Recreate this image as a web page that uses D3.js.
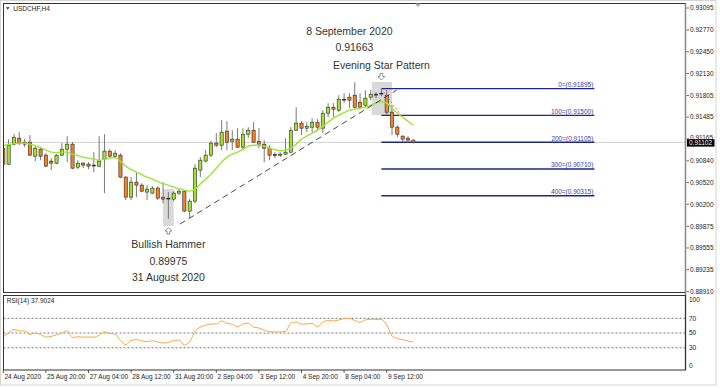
<!DOCTYPE html>
<html lang="en">
<head>
<meta charset="UTF-8">
<title>USDCHF,H4</title>
<style>
  * { margin: 0; padding: 0; }
  body { background: #fff; width: 720px; height: 388px; overflow: hidden; }
  svg { display: block; font-family: "Liberation Sans", Arial, sans-serif; }
  .axis-label { font-size: 6.5px; fill: #222; }
  .note { font-size: 10.5px; fill: #333; text-anchor: middle; }
  .fib-label { font-size: 6.5px; fill: #3d3da8; text-anchor: end; }
</style>
</head>
<body>
<svg id="chart" width="720" height="388"></svg>
<script src="https://d3js.org/d3.v7.min.js"></script>
<script>
// USDCHF H4 bars, 24 Aug 2020 12:00 -> 10 Sep 2020 08:00
const open = [0.91017,0.90781,0.91076,0.91165,0.91076,0.91106,0.90899,0.91002,0.90914,0.90826,
  0.90796,0.90914,0.91002,0.91076,0.90737,0.90796,0.90781,0.90767,0.90752,0.90855,
  0.90973,0.90899,0.90914,0.90590,0.90295,0.90516,0.90472,0.90369,0.90354,0.90428,
  0.90295,0.90266,0.90266,0.90354,0.90383,0.90089,0.90236,0.90693,0.90826,0.90914,
  0.91091,0.91061,0.91268,0.91120,0.91150,0.91032,0.91223,0.91282,0.91120,0.91076,
  0.91017,0.90922,0.90914,0.90929,0.90958,0.91282,0.91386,0.91312,0.91327,0.91400,
  0.91312,0.91533,0.91621,0.91577,0.91739,0.91769,0.91798,0.91695,0.91651,0.91769,
  0.91813,0.91820,0.91798,0.91548,0.91327,0.91194,0.91165,0.91135];
const high = [0.91047,0.91150,0.91223,0.91253,0.91150,0.91209,0.91047,0.91032,0.90943,0.90870,
  0.90929,0.91091,0.91194,0.91106,0.90840,0.90811,0.90811,0.90958,0.91194,0.91223,
  0.91002,0.90988,0.90943,0.90605,0.90590,0.90663,0.90501,0.90472,0.90457,0.90457,
  0.90516,0.90369,0.90383,0.90413,0.90398,0.90266,0.90781,0.90885,0.90988,0.91120,
  0.91238,0.91430,0.91415,0.91282,0.91312,0.91312,0.91327,0.91400,0.91312,0.91135,
  0.91061,0.90958,0.90958,0.91165,0.91327,0.91621,0.91415,0.91400,0.91459,0.91445,
  0.91577,0.91680,0.91680,0.91798,0.91828,0.91828,0.91990,0.91828,0.91872,0.91872,
  0.91842,0.91895,0.91872,0.91651,0.91356,0.91209,0.91194,0.91150];
const low = [0.90737,0.90767,0.91061,0.91061,0.91032,0.90899,0.90826,0.90840,0.90737,0.90693,
  0.90781,0.90899,0.90811,0.90708,0.90708,0.90722,0.90708,0.90663,0.90737,0.90354,
  0.90870,0.90870,0.90575,0.90251,0.90251,0.90295,0.90369,0.90251,0.90339,0.90251,
  0.90207,0.89975,0.90236,0.90325,0.90074,0.89986,0.90207,0.90590,0.90811,0.90885,
  0.91032,0.90988,0.90988,0.90988,0.91017,0.90988,0.91165,0.91091,0.91017,0.90811,
  0.90840,0.90870,0.90885,0.90914,0.90943,0.91268,0.91209,0.91253,0.91253,0.91268,
  0.91238,0.91474,0.91474,0.91548,0.91680,0.91607,0.91607,0.91607,0.91621,0.91725,
  0.91754,0.91783,0.91503,0.91209,0.91179,0.91106,0.91120,0.91084];
const close = [0.90781,0.91061,0.91179,0.91091,0.91106,0.90914,0.91017,0.90899,0.90752,0.90796,
  0.90914,0.91002,0.91076,0.90722,0.90796,0.90767,0.90752,0.90759,0.90826,0.90973,
  0.90899,0.90943,0.90590,0.90295,0.90516,0.90472,0.90383,0.90413,0.90428,0.90280,
  0.90266,0.90280,0.90354,0.90383,0.90089,0.90236,0.90722,0.90840,0.90914,0.91091,
  0.91061,0.91253,0.91106,0.91150,0.91032,0.91223,0.91282,0.91106,0.91076,0.91017,
  0.90914,0.90914,0.90929,0.90958,0.91282,0.91386,0.91312,0.91341,0.91400,0.91327,
  0.91533,0.91621,0.91592,0.91739,0.91732,0.91725,0.91621,0.91621,0.91754,0.91813,
  0.91806,0.91828,0.91548,0.91327,0.91223,0.91150,0.91135,0.91102];
// moving average as drawn on the chart
const maValues = [0.91061,0.91069,0.91084,0.91091,0.91091,0.91076,0.91054,0.91025,0.90988,0.90958,
  0.90951,0.90958,0.90958,0.90929,0.90907,0.90885,0.90870,0.90855,0.90840,0.90855,
  0.90870,0.90877,0.90826,0.90752,0.90700,0.90663,0.90627,0.90590,0.90560,0.90524,
  0.90494,0.90472,0.90442,0.90420,0.90398,0.90383,0.90413,0.90487,0.90560,0.90634,
  0.90722,0.90811,0.90885,0.90929,0.90958,0.91002,0.91047,0.91061,0.91061,0.91047,
  0.91017,0.90995,0.90980,0.90988,0.91017,0.91076,0.91150,0.91194,0.91238,0.91282,
  0.91341,0.91400,0.91459,0.91503,0.91540,0.91577,0.91592,0.91607,0.91621,0.91651,
  0.91680,0.91702,0.91680,0.91607,0.91533,0.91474,0.91415,0.91356];
const rsiValues = [45,50,55,53,53,48,50,48,44.5,45.5,
  47.5,50,53,44,45,44.5,44.5,44.5,47,51.5,
  49.6,48.5,40,34,40,41,39.5,38.2,39.5,37.8,
  36.5,37,40,40.5,34,38.2,52,58,60.5,62.3,
  62.3,66.4,63.3,62,58.5,62.3,63.3,58,57,54,
  51.8,51.5,51.5,52,63.5,65,62,62.5,63,58.5,
  65,67,66.5,67.8,69.5,70,67,64.6,67.8,68.7,
  68.7,68.5,61,46,42.5,41,39,37.9024];

const priceTicks = [0.93095,0.92770,0.92450,0.92130,0.91805,0.91485,0.91165,0.90840,0.90520,0.90200,0.89875,0.89555,0.89235,0.88910];
const timeTickBars = [0,8,16,24,32,40,48,56,64,72];
const timeTickLabels = ['24 Aug 2020','25 Aug 20:00','27 Aug 04:00','28 Aug 12:00','31 Aug 20:00','2 Sep 04:00','3 Sep 12:00','4 Sep 20:00','8 Sep 04:00','9 Sep 12:00'];
const rsiTicks = [100,70,50,30,0];
const rsiLevels = [70,50,30];
const fibLevels = [0,100,200,300,400];
const fibPrices = [0.91895,0.91500,0.91105,0.90710,0.90315];
const lastPrice = 0.91102;

const svg = d3.select('#chart');
const L = 3.5, R = 685.5, T = 3.5, B = 292.5, RT = 295.5, RB = 370;
const GREEN = '#a2e22c', ORANGE = '#ef8429';

const x = d3.scaleLinear().domain([0, 72]).range([3.3, 386.7]);
const y = d3.scaleLinear().domain([0.88910, 0.93095]).range([291, 7.3]);
const yr = d3.scaleLinear().domain([0, 100]).range([369.8, 296.3]);

const defs = svg.append('defs');
defs.append('clipPath').attr('id', 'clip-main').append('rect')
  .attr('x', L).attr('y', T).attr('width', R - L).attr('height', B - T);
defs.append('clipPath').attr('id', 'clip-rsi').append('rect')
  .attr('x', L).attr('y', RT).attr('width', R - L).attr('height', RB - RT);

// outer window border
svg.append('rect').attr('x', 0.5).attr('y', 0.5).attr('width', 715.5).attr('height', 384.5)
  .attr('fill', 'none').attr('stroke', '#d4d4d4');

const main = svg.append('g').attr('clip-path', 'url(#clip-main)');

// highlight boxes
const boxes = [
  { b0: 30, b1: 32, hi: 0.90415, lo: 0.89869 },
  { b0: 69.2, b1: 73, hi: 0.91993, lo: 0.91506 }
];
main.append('g').selectAll('rect').data(boxes).join('rect')
  .attr('x', d => x(d.b0)).attr('width', d => x(d.b1) - x(d.b0))
  .attr('y', d => y(d.hi)).attr('height', d => y(d.lo) - y(d.hi))
  .attr('fill', '#d9d9d9');

// current price line
main.append('line').attr('x1', L).attr('x2', R).attr('y1', y(lastPrice)).attr('y2', y(lastPrice))
  .attr('stroke', '#cfcfcf');

// fibo expansion lines
const fibStart = 71, fibEnd = 111;
main.append('g').selectAll('line').data(fibPrices).join('line')
  .attr('x1', x(fibStart)).attr('x2', x(fibEnd))
  .attr('y1', d => y(d)).attr('y2', d => y(d))
  .attr('stroke', '#1f268c').attr('stroke-width', 1.4);
main.append('g').selectAll('text').data(fibPrices).join('text')
  .attr('class', 'fib-label')
  .attr('x', x(fibEnd) - 1).attr('y', d => y(d) - 1.5)
  .text((d, i) => fibLevels[i] + '=(' + d.toFixed(5) + ')');

// candles
const bars = open.map((o, i) => ({ i, o, h: high[i], l: low[i], c: close[i] }));
const candle = main.append('g').selectAll('g').data(bars).join('g');
candle.append('line')
  .attr('x1', d => x(d.i)).attr('x2', d => x(d.i))
  .attr('y1', d => y(d.h)).attr('y2', d => y(d.l))
  .attr('stroke', '#6a6a6a').attr('stroke-width', 0.9);
candle.append('rect')
  .attr('x', d => x(d.i) - 1.6).attr('width', 3.2)
  .attr('y', d => y(Math.max(d.o, d.c)))
  .attr('height', d => Math.max(0.9, Math.abs(y(d.o) - y(d.c))))
  .attr('fill', d => Math.abs(y(d.o) - y(d.c)) < 1 ? '#222' : d.c > d.o ? GREEN : ORANGE)
  .attr('stroke', '#2a2a2a').attr('stroke-width', 0.6);

// moving average
main.append('path').datum(maValues)
  .attr('fill', 'none').attr('stroke', '#9be62e').attr('stroke-width', 1.4)
  .attr('d', d3.line().x((d, i) => x(i)).y(d => y(d)).curve(d3.curveMonotoneX));

// trend line
const trend = [[33.2, 0.89898], [73.9, 0.91875]];
main.append('line')
  .attr('x1', x(trend[0][0])).attr('y1', y(trend[0][1]))
  .attr('x2', x(trend[1][0])).attr('y2', y(trend[1][1]))
  .attr('stroke', '#333').attr('stroke-width', 0.9).attr('stroke-dasharray', '6,4');

// fibo base line
const fibBase = [[71, 0.91895], [74.7, 0.91500]];
main.append('line')
  .attr('x1', x(fibBase[0][0])).attr('y1', y(fibBase[0][1]))
  .attr('x2', x(fibBase[1][0])).attr('y2', y(fibBase[1][1]))
  .attr('stroke', '#ff5a5a').attr('stroke-width', 0.9).attr('stroke-dasharray', '2,2');

// annotations
function arrow(cx, top, up) {
  const p = up
    ? [[0,0],[3.5,3.5],[1.4,3.5],[1.4,6.5],[-1.4,6.5],[-1.4,3.5],[-3.5,3.5]]
    : [[0,6.5],[3.5,3],[1.4,3],[1.4,0],[-1.4,0],[-1.4,3],[-3.5,3]];
  svg.append('path')
    .attr('d', 'M' + p.map(q => (cx + q[0]) + ',' + (top + q[1])).join('L') + 'Z')
    .attr('fill', '#fff').attr('stroke', '#777').attr('stroke-width', 0.8);
}
const hx = x(31), hb = y(boxes[0].lo);
arrow(hx, hb + 1.5, true);
svg.append('text').attr('class', 'note').attr('x', hx).attr('y', hb + 22).text('Bullish Hammer');
svg.append('text').attr('class', 'note').attr('x', hx).attr('y', hb + 39.5).text('0.89975');
svg.append('text').attr('class', 'note').attr('x', hx).attr('y', hb + 55).text('31 August 2020');

const ex = x(71), et = y(boxes[1].hi);
arrow(ex, et - 8.5, false);
svg.append('text').attr('class', 'note').attr('x', ex).attr('y', et - 13).text('Evening Star Pattern');
svg.append('text').attr('class', 'note').attr('x', ex - 27).attr('y', et - 31).text('0.91663');
svg.append('text').attr('class', 'note').attr('x', ex - 32).attr('y', et - 47.5).text('8 September 2020');

// main frame
svg.append('rect').attr('x', L).attr('y', T).attr('width', R - L).attr('height', B - T)
  .attr('fill', 'none').attr('stroke', '#333');
svg.append('line').attr('x1', R).attr('x2', R).attr('y1', T).attr('y2', RB)
  .attr('stroke', '#8c8c8c').attr('stroke-width', 1.6);

// chart shift marker
svg.append('path').attr('d', 'M415,3.5L421,3.5L418,7Z').attr('fill', '#aaa');

// title
svg.append('path').attr('d', 'M6,7.3L9.6,7.3L7.8,9.6Z').attr('fill', '#222');
svg.append('text').attr('class', 'axis-label').attr('x', 13.3).attr('y', 11.2).text('USDCHF,H4');

// price axis
const pAxis = svg.append('g');
pAxis.selectAll('line').data(priceTicks).join('line')
  .attr('x1', R + 1).attr('x2', R + 3.5).attr('y1', d => y(d) + 0.7).attr('y2', d => y(d) + 0.7)
  .attr('stroke', '#444').attr('stroke-width', 0.8);
pAxis.selectAll('text').data(priceTicks).join('text')
  .attr('class', 'axis-label').attr('x', R + 4.5)
  .attr('y', d => y(d) + (Math.abs(y(d) - y(lastPrice)) < 8 ? 1.6 : 3))
  .text(d => d.toFixed(5));

// last price box
svg.append('rect').attr('x', R + 1.5).attr('y', y(lastPrice) - 3.2).attr('width', 27.5).attr('height', 7.4)
  .attr('fill', '#000');
svg.append('text').attr('class', 'axis-label').attr('x', R + 3.5).attr('y', y(lastPrice) + 3)
  .style('fill', '#fff').text(lastPrice.toFixed(5));

// RSI panel
const rsiG = svg.append('g').attr('clip-path', 'url(#clip-rsi)');
rsiG.selectAll('line').data(rsiLevels).join('line')
  .attr('x1', L).attr('x2', R).attr('y1', d => yr(d)).attr('y2', d => yr(d))
  .attr('stroke', '#555').attr('stroke-width', 0.8).attr('stroke-dasharray', '2,2');
rsiG.append('path').datum(rsiValues)
  .attr('fill', 'none').attr('stroke', '#f6a845').attr('stroke-width', 1)
  .attr('d', d3.line().x((d, i) => x(i)).y(d => yr(d)).curve(d3.curveMonotoneX));
svg.append('rect').attr('x', L).attr('y', RT).attr('width', R - L).attr('height', RB - RT)
  .attr('fill', 'none').attr('stroke', '#333');
svg.append('text').attr('class', 'axis-label').attr('x', 6.7).attr('y', 303.3)
  .text('RSI(14) ' + rsiValues[rsiValues.length - 1].toFixed(4));
svg.append('g').selectAll('text').data(rsiTicks).join('text')
  .attr('class', 'axis-label').attr('x', R + 3.5)
  .attr('y', d => Math.min(RB - 2, Math.max(RT + 6.5, yr(d) + 2.3)))
  .text(d => d);

// time axis
const tAxis = svg.append('g');
tAxis.selectAll('line').data(timeTickBars).join('line')
  .attr('x1', d => x(d)).attr('x2', d => x(d)).attr('y1', RB).attr('y2', RB + 3)
  .attr('stroke', '#333').attr('stroke-width', 0.8);
tAxis.selectAll('text').data(timeTickBars).join('text')
  .attr('class', 'axis-label').attr('x', d => x(d) + 1.2).attr('y', 378.6)
  .text((d, i) => timeTickLabels[i]);
</script>
</body>
</html>
